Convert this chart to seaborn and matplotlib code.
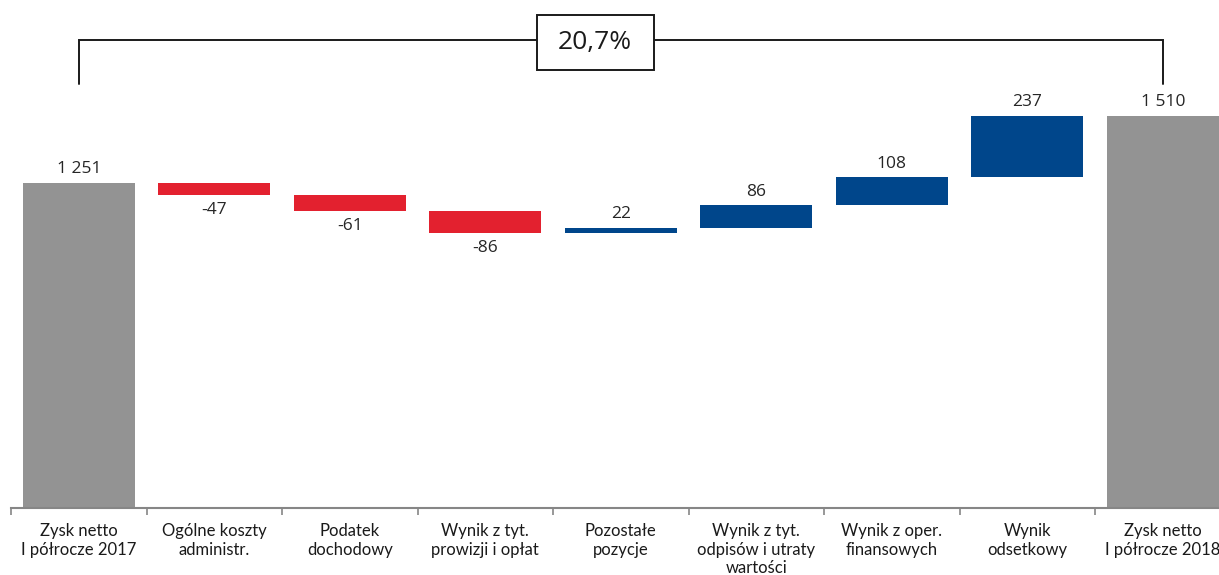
import matplotlib
matplotlib.use("Agg")
import matplotlib.pyplot as plt
from matplotlib.patches import Rectangle
from matplotlib.ticker import FixedLocator
import numpy as np
import pandas as pd
import seaborn as sns

# --- data -------------------------------------------------------------
categories = [
    "Zysk netto\nI półrocze 2017",
    "Ogólne koszty\nadministr.",
    "Podatek\ndochodowy",
    "Wynik z tyt.\nprowizji i opłat",
    "Pozostałe\npozycje",
    "Wynik z tyt.\nodpisów i utraty\nwartości",
    "Wynik z oper.\nfinansowych",
    "Wynik\nodsetkowy",
    "Zysk netto\nI półrocze 2018",
]
values = [1251, -47, -61, -86, 22, 86, 108, 237, 1510]
is_total = [True, False, False, False, False, False, False, False, True]
value_labels = ["1 251", "-47", "-61", "-86", "22", "86", "108", "237", "1 510"]
growth_label = "20,7%"

GREY = "#939393"
RED = "#E3212F"
BLUE = "#00468B"

# --- waterfall geometry ----------------------------------------------
bottoms, heights, colors = [], [], []
running = 0
for v, tot in zip(values, is_total):
    if tot:
        bottoms.append(0)
        heights.append(v)
        colors.append(GREY)
        running = v
    else:
        if v < 0:
            bottoms.append(running + v)
            heights.append(-v)
            colors.append(RED)
        else:
            bottoms.append(running)
            heights.append(v)
            colors.append(BLUE)
        running += v

df = pd.DataFrame({"category": categories, "height": heights, "bottom": bottoms})

sns.set_theme(style="white")
plt.rcParams["font.family"] = ["Lato", "DejaVu Sans"]

fig = plt.figure(figsize=(12.19, 5.75), dpi=100)
ax = fig.add_axes([11 / 1219, 67 / 575, 1219.5 / 1219, 508 / 575])

sns.barplot(data=df, x="category", y="height", bottom=df["bottom"].values,
            width=0.83, color=GREY, ax=ax, saturation=1)
for patch, c in zip(ax.patches, colors):
    patch.set_facecolor(c)
    patch.set_edgecolor("none")

ax.set_xlim(-0.5, len(categories) - 0.5)
ax.set_ylim(0, 1955)

# value labels
for i, (v, tot, b, h, lab) in enumerate(zip(values, is_total, bottoms, heights, value_labels)):
    if tot or v >= 0:
        ax.annotate(lab, (i, b + h), xytext=(0, 4), textcoords="offset points",
                    ha="center", va="bottom", fontsize=12.5, color="#262626",
                    family=["Open Sans", "DejaVu Sans"])
    else:
        ax.annotate(lab, (i, b), xytext=(0, -5), textcoords="offset points",
                    ha="center", va="top", fontsize=12.5, color="#262626",
                    family=["Open Sans", "DejaVu Sans"])

# growth bracket between the two totals
y_top, y_end = 1800, 1632
ax.plot([0, 0, 8, 8], [y_end, y_top, y_top, y_end], color="#1a1a1a", lw=1.4,
        solid_joinstyle="miter", zorder=2)
ax.add_patch(Rectangle((3.382, 1686), 0.863, 212, facecolor="white",
                       edgecolor="#1a1a1a", lw=1.4, zorder=3))
ax.text(3.81, 1792, growth_label, ha="center", va="center", fontsize=19,
        color="#1a1a1a", zorder=4, family=["Open Sans", "DejaVu Sans"])

# axes styling
for s in ["top", "right", "left"]:
    ax.spines[s].set_visible(False)
ax.spines["bottom"].set_color("#868686")
ax.spines["bottom"].set_linewidth(1.5)
ax.set_yticks([])
ax.set_xlabel("")
ax.set_ylabel("")
ax.xaxis.set_minor_locator(FixedLocator(np.arange(-0.5, len(categories), 1.0)))
ax.tick_params(axis="x", which="major", length=0, pad=11, labelsize=12,
               labelcolor="#1a1a1a")
ax.tick_params(axis="x", which="minor", length=5, width=1.2, color="#868686",
               direction="out", bottom=True)
for t in ax.get_xticklabels():
    t.set_linespacing(1.2)

fig.savefig("out.png", dpi=100)
